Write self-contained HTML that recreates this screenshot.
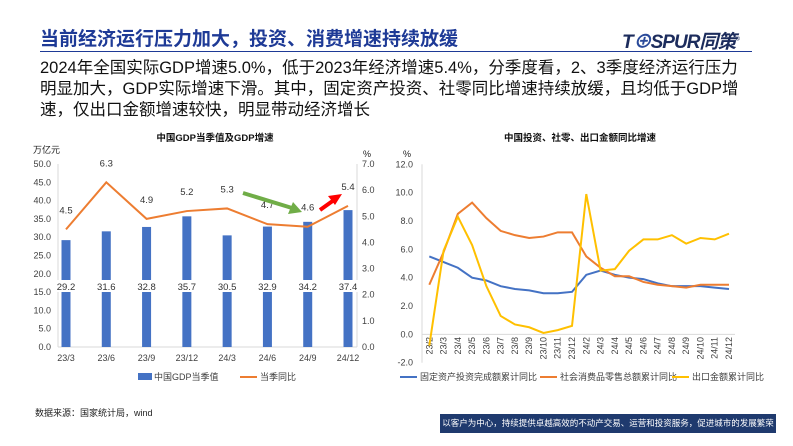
<!DOCTYPE html>
<html><head><meta charset="utf-8">
<style>
body{margin:0;width:793px;height:446px;background:#fff;position:relative;overflow:hidden;font-family:"Liberation Sans","Noto Sans CJK SC",sans-serif;}
.abs{position:absolute;white-space:nowrap;}
</style></head>
<body>
<div class="abs" style="left:40px;top:24px;font-size:19px;font-weight:bold;color:#1e3a96;">当前经济运行压力加大，投资、消费增速持续放缓</div>
<div class="abs" style="left:622px;top:27px;font-size:19px;font-weight:bold;font-style:italic;color:#1c2c5c;letter-spacing:-1px;">T<span style="color:#2a4a9a">⊕</span>SPUR同策<sup style="font-size:6px">®</sup></div>
<div class="abs" style="left:40px;top:51px;width:712px;height:1px;background:#1e3a96;"></div>
<div class="abs" style="left:40px;top:58px;width:700px;white-space:normal;font-size:16.5px;line-height:21px;color:#111;">2024年全国实际GDP增速5.0%，低于2023年经济增速5.4%，分季度看，2、3季度经济运行压力明显加大，GDP实际增速下滑。其中，固定资产投资、社零同比增速持续放缓，且均低于GDP增速，仅出口金额增速较快，明显带动经济增长</div>
<svg class="abs" style="left:0;top:0" width="793" height="446" id="charts"></svg>
<div class="abs" style="left:35px;top:406px;font-size:9px;color:#222;">数据来源：国家统计局，wind</div>
<div class="abs" style="left:440px;top:414px;width:336px;height:19px;background:#1f3a6e;color:#fff;font-size:8.5px;line-height:19px;text-align:center;">以客户为中心，持续提供卓越高效的不动产交易、运营和投资服务，促进城市的发展繁荣</div>
<script>
const gdpCats=["23/3","23/6","23/9","23/12","24/3","24/6","24/9","24/12"];
const gdpValues=[29.2,31.6,32.8,35.7,30.5,32.9,34.2,37.4];
const gdpGrowth=[4.5,6.3,4.9,5.2,5.3,4.7,4.6,5.4];
const leftTicks=[0,5,10,15,20,25,30,35,40,45,50];
const rightTicks=[0,1,2,3,4,5,6,7];
const mCats=["23/2","23/3","23/4","23/5","23/6","23/7","23/8","23/9","23/10","23/11","23/12","24/2","24/3","24/4","24/5","24/6","24/7","24/8","24/9","24/10","24/11","24/12"];
const faiValues=[5.5,5.1,4.7,4.0,3.8,3.4,3.2,3.1,2.9,2.9,3.0,4.2,4.5,4.2,4.0,3.9,3.6,3.4,3.4,3.4,3.3,3.2];
const retailValues=[3.5,5.8,8.5,9.3,8.2,7.3,7.0,6.8,6.9,7.2,7.2,5.5,4.7,4.1,4.1,3.7,3.5,3.4,3.3,3.5,3.5,3.5];
const exportValues=[-0.8,5.9,8.3,6.3,3.4,1.3,0.7,0.5,0.1,0.3,0.6,9.9,4.5,4.6,5.9,6.7,6.7,7.0,6.4,6.8,6.7,7.1];
const mTicks=[-2,0,2,4,6,8,10,12];

const svg=document.getElementById('charts');
const NS='http://www.w3.org/2000/svg';
function mk(tag,attrs,parent){const e=document.createElementNS(NS,tag);for(const k in attrs)e.setAttribute(k,attrs[k]);(parent||svg).appendChild(e);return e;}
function txt(x,y,s,attrs){const e=mk('text',Object.assign({x:x,y:y,'font-size':9,fill:'#404040','font-family':'Liberation Sans, Noto Sans CJK SC, sans-serif'},attrs||{}));e.textContent=s;return e;}

// ---- Left chart ----
const L={x0:58,x1:357,y0:347,y1:164};
const lx=i=>66+i*(348-66)/(gdpCats.length-1);
const ly=v=>L.y0-(v/50)*(L.y0-L.y1);
const ry=v=>L.y0-(v/7)*(L.y0-L.y1);
let t=txt(215,141,'中国GDP当季值及GDP增速',{'text-anchor':'middle','font-weight':'bold','font-size':9.5,fill:'#111'});

t=txt(33,153,'万亿元',{fill:'#222'});
t=txt(363,157,'%',{fill:'#222'});
mk('line',{x1:L.x0,y1:L.y1,x2:L.x0,y2:L.y0,stroke:'#d9d9d9'});
mk('line',{x1:L.x1,y1:L.y1,x2:L.x1,y2:L.y0,stroke:'#d9d9d9'});
mk('line',{x1:L.x0,y1:L.y0,x2:L.x1,y2:L.y0,stroke:'#d9d9d9'});
leftTicks.forEach(v=>{const e=txt(51,ly(v)+3,v.toFixed(1),{'text-anchor':'end'});});
rightTicks.forEach(v=>{const e=txt(362,ry(v)+3,v.toFixed(1));});
gdpCats.forEach((c,i)=>{const e=txt(lx(i),361,c,{'text-anchor':'middle'});});
gdpValues.forEach((v,i)=>{
  const b=mk('rect',{x:lx(i)-4.5,y:ly(v),width:9,height:L.y0-ly(v),fill:'#4472c4'});
  
  const bg=mk('rect',{x:lx(i)-12,y:280,width:24,height:12,fill:'#fff'});
  
  const e=txt(lx(i),290,v.toFixed(1),{'text-anchor':'middle','font-size':9.5,fill:'#333'});
  
});
let pts=gdpGrowth.map((v,i)=>lx(i)+','+ry(v)).join(' ');
let pl=mk('polyline',{points:pts,fill:'none',stroke:'#ed7d31','stroke-width':2});

gdpGrowth.forEach((v,i)=>{const e=txt(lx(i),ry(v)-16,v.toFixed(1),{'text-anchor':'middle','font-size':9.5,fill:'#333'});});
// arrows
let a=mk('line',{x1:243,y1:193,x2:292,y2:208,stroke:'#70ad47','stroke-width':4});
mk('polygon',{points:'302,212 288,214 293,202',fill:'#70ad47'});
a=mk('line',{x1:320,y1:210,x2:334,y2:200,stroke:'#ff0000','stroke-width':4});
mk('polygon',{points:'342,194 328,196 335,205',fill:'#ff0000'});
// legend
let lg=mk('rect',{x:138,y:373,width:14,height:7,fill:'#4472c4'});
t=txt(154,380,'中国GDP当季值',{fill:'#404040'});
lg=mk('line',{x1:240,y1:377,x2:257,y2:377,stroke:'#ed7d31','stroke-width':2});
t=txt(260,380,'当季同比',{fill:'#404040'});

// ---- Right chart ----
const R={x0:422,x1:735,y0:362.7,y1:164.3};
const mx=i=>429.3+i*(729-429.3)/(mCats.length-1);
const my=v=>R.y0-((v+2)/14)*(R.y0-R.y1);
t=txt(580,141,'中国投资、社零、出口金额同比增速',{'text-anchor':'middle','font-weight':'bold','font-size':9.5,fill:'#111'});

t=txt(403,157,'%',{fill:'#222'});
mk('line',{x1:R.x0,y1:R.y1,x2:R.x0,y2:R.y0,stroke:'#d9d9d9'});
mk('line',{x1:R.x0,y1:my(0),x2:R.x1,y2:my(0),stroke:'#d9d9d9'});
mTicks.forEach(v=>{const e=txt(413,my(v)+3,v.toFixed(1),{'text-anchor':'end'});});
mCats.forEach((c,i)=>{const x=mx(i)+3,y=337;const e=txt(x,y,c,{'text-anchor':'end',transform:'rotate(-90 '+x+' '+y+')'});});
const series=[[faiValues,'#4472c4','fai-line'],[retailValues,'#ed7d31','retail-line'],[exportValues,'#ffc000','export-line']];
series.forEach(s=>{const p=mk('polyline',{points:s[0].map((v,i)=>mx(i)+','+my(v)).join(' '),fill:'none',stroke:s[1],'stroke-width':2});});
const legs=[[400,'#4472c4','固定资产投资完成额累计同比','legend-fai'],[540,'#ed7d31','社会消费品零售总额累计同比','legend-retail'],[672,'#ffc000','出口金额累计同比','legend-export']];
legs.forEach(l=>{const s=mk('line',{x1:l[0],y1:377,x2:l[0]+17,y2:377,stroke:l[1],'stroke-width':2});
const e=txt(l[0]+20,380,l[2],{fill:'#404040'});});
</script>
</body></html>
